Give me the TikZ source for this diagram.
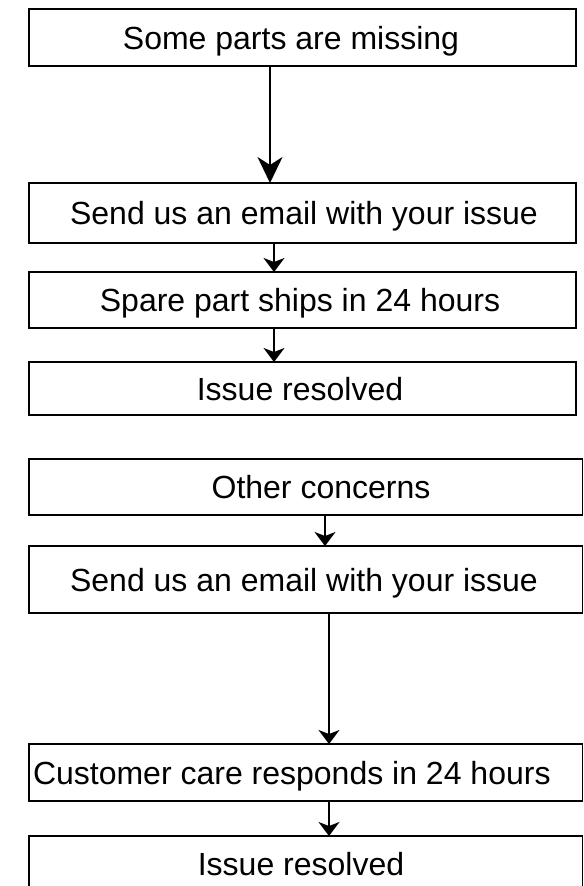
\documentclass[tikz,border=0pt]{standalone}
\usepackage{fontspec}
\setmainfont{Liberation Sans}
\usetikzlibrary{arrows.meta}
\tikzset{
  box/.style={draw=black, line width=1.9bp, inner sep=0pt, outer sep=0pt, fill=white},
  lbl/.style={inner sep=0pt, outer sep=0pt, font=\fontsize{32bp}{36bp}\selectfont, anchor=base},
  arr/.style={line width=1.8bp, -{Stealth[length=14bp, width=21bp, inset=4bp]}},
  bigarr/.style={line width=1.8bp, -{Stealth[length=26bp, width=25bp, inset=8bp]}}
}
\begin{document}
\begin{tikzpicture}[x=1bp, y=-1bp]
\useasboundingbox (0,0) rectangle (584,886);
% boxes
\node[box, minimum width=547bp, minimum height=57bp] (b1) at (302.5,37.5) {};
\node[box, minimum width=547bp, minimum height=60bp] (b2) at (302.5,213) {};
\node[box, minimum width=547bp, minimum height=56bp] (b3) at (302.5,300) {};
\node[box, minimum width=547bp, minimum height=53bp] (b4) at (302.5,388.5) {};
\node[box, minimum width=553.5bp, minimum height=56bp] (b5) at (305.75,487) {};
\node[box, minimum width=553.5bp, minimum height=67bp] (b6) at (305.75,579.5) {};
\node[box, minimum width=553.5bp, minimum height=57bp] (b7) at (305.75,772.5) {};
\node[box, minimum width=553.5bp, minimum height=57bp] (b8) at (305.75,864.5) {};
% texts
\node[lbl] (t1) at (291,49) {Some parts are missing};
\node[lbl] (t2) at (304,224.5) {Send us an email with your issue};
\node[lbl] (t3) at (300,311.5) {Spare part ships in 24 hours};
\node[lbl] (t4) at (300,400) {Issue resolved};
\node[lbl] (t5) at (321,498.5) {Other concerns};
\node[lbl] (t6) at (304,591) {Send us an email with your issue};
\node[lbl, anchor=base west] (t7) at (33,784) {Customer care responds in 24 hours};
\node[lbl] (t8) at (301,875) {Issue resolved};
% connector x positions
\coordinate (x1) at (270,0);
\coordinate (x2) at (274,0);
\coordinate (x4) at (325,0);
\coordinate (x5) at (329,0);
% connectors
\draw[bigarr] (b1.south -| x1) -- (b2.north -| x1);
\draw[arr] (b2.south -| x2) -- (b3.north -| x2);
\draw[arr] (b3.south -| x2) -- (b4.north -| x2);
\draw[arr] (b5.south -| x4) -- (b6.north -| x4);
\draw[arr] (b6.south -| x5) -- (b7.north -| x5);
\draw[arr] (b7.south -| x5) -- (b8.north -| x5);
\end{tikzpicture}
\end{document}
